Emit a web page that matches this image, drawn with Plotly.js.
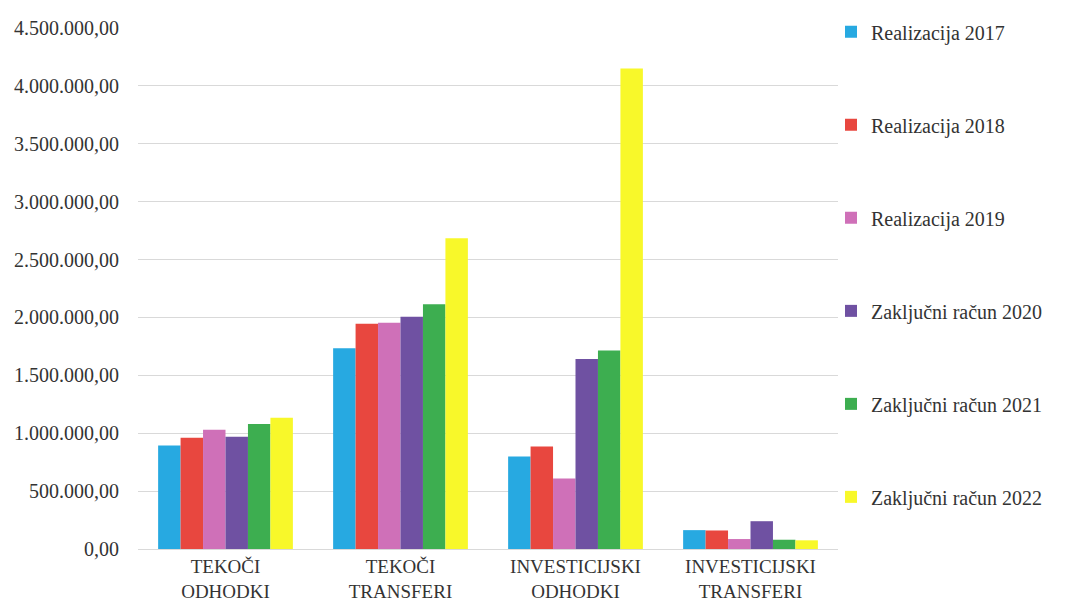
<!DOCTYPE html>
<html>
<head>
<meta charset="utf-8">
<script src="https://cdn.plot.ly/plotly-3.0.1.min.js"></script>
<style>html,body{margin:0;padding:0;background:#fff;}#chart{width:1075px;height:610px;}</style>
</head>
<body>
<div id="chart"></div>
<script>
const categories = ["TEKOČI<br>ODHODKI", "TEKOČI<br>TRANSFERI", "INVESTICIJSKI<br>ODHODKI", "INVESTICIJSKI<br>TRANSFERI"];
const seriesNames = ["Realizacija 2017", "Realizacija 2018", "Realizacija 2019", "Zaključni račun 2020", "Zaključni račun 2021", "Zaključni račun 2022"];
const real2017 = [893000, 1735000, 800000, 163000];
const real2018 = [960000, 1945000, 885000, 160000];
const real2019 = [1030000, 1955000, 610000, 86000];
const zr2020 = [970000, 2005000, 1640000, 240000];
const zr2021 = [1080000, 2115000, 1715000, 80000];
const zr2022 = [1134000, 2685000, 4150000, 75000];
const seriesValues = [real2017, real2018, real2019, zr2020, zr2021, zr2022];
const colors = ["#27A9E1", "#E8473F", "#CF70B8", "#6F51A2", "#3DAE50", "#F8F82A"];

const traces = seriesNames.map((name, i) => ({
  type: "bar",
  name: name,
  x: categories,
  y: seriesValues[i],
  legendgroup: "g" + i,
  marker: {color: colors[i], line: {width: 0}},
  hoverinfo: "y+name"
}));

const font = {family: "Liberation Serif, Times New Roman, serif", size: 20, color: "#333333"};

const layout = {
  width: 1075,
  height: 610,
  margin: {l: 138, r: 237, t: 25, b: 61},
  paper_bgcolor: "#ffffff",
  plot_bgcolor: "#ffffff",
  font: font,
  separators: ",.",
  barmode: "group",
  bargap: 0.23,
  bargroupgap: 0,
  showlegend: true,
  legend: {
    x: 0.99, xanchor: "left", xref: "paper",
    y: 1.03, yanchor: "top",
    font: font,
    tracegroupgap: 64,
    traceorder: "grouped",
    itemwidth: 30,
    maxheight: 1,
    bgcolor: "rgba(0,0,0,0)"
  },
  xaxis: {
    type: "category",
    showgrid: false,
    showline: false,
    zeroline: false,
    ticks: "",
    ticklabelstandoff: 4,
    tickfont: {family: "Liberation Serif, Times New Roman, serif", size: 19, color: "#333333"},
    automargin: false
  },
  yaxis: {
    range: [0, 4500000],
    dtick: 500000,
    tick0: 0,
    tickformat: ",.2f",
    showgrid: true,
    gridcolor: "#d9d9d9",
    gridwidth: 1,
    zeroline: true,
    zerolinecolor: "#d9d9d9",
    zerolinewidth: 1,
    showline: false,
    ticks: "",
    ticklabelstandoff: 18,
    tickfont: font,
    automargin: false
  }
};

Plotly.newPlot("chart", traces, layout, {displayModeBar: false, staticPlot: true});
</script>
</body>
</html>
